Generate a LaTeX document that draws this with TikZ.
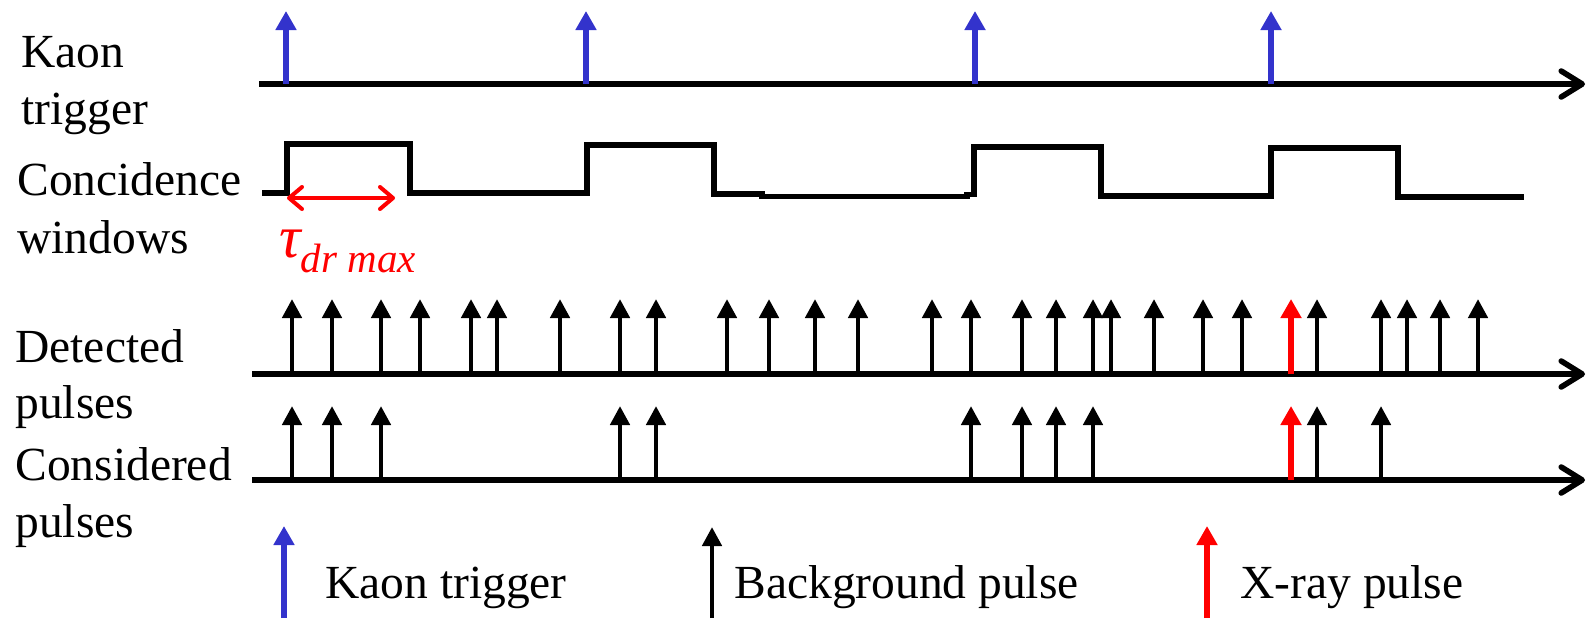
\documentclass[tikz,border=0pt]{standalone}
\usepackage{fontspec}
\setmainfont{Liberation Serif}
\usetikzlibrary{arrows.meta}
\definecolor{kblue}{RGB}{51,51,204}
\definecolor{xred}{RGB}{255,0,0}
\begin{document}
\begin{tikzpicture}[x=0.5pt,y=-0.5pt,
  lbl/.style={font=\fontsize{23.75}{28}\selectfont, anchor=base west, inner sep=0pt},
  axisline/.style={line width=2.8pt, -{Straight Barb[length=10.5pt,width=13pt,round]}},
  pulse/.style={line width=2.3pt, -{Triangle[length=9.5pt,width=9.5pt]}},
  xpulse/.style={xred, line width=2.7pt, -{Triangle[length=9.5pt,width=10pt]}},
  kpulse/.style={kblue, line width=2.7pt, -{Triangle[length=9.5pt,width=10pt]}},
  wave/.style={line width=2.7pt, line cap=butt, line join=miter}]
\useasboundingbox (0,0) rectangle (1588,618);

% left labels
\node[lbl] (l1a) at (21,67) {Kaon};
\node[lbl] (l1b) at (21,124) {trigger};
\node[lbl] (l2a) at (17,195) {Concidence};
\node[lbl] (l2b) at (17,253) {windows};
\node[lbl] (l3a) at (15,362) {Detected};
\node[lbl] (l3b) at (15,418) {pulses};
\node[lbl] (l4a) at (15,480) {Considered};
\node[lbl] (l4b) at (15,537) {pulses};

% Kaon trigger axis
\coordinate (ka0) at (259,84);
\coordinate (ka1) at (1585,84);
\draw[axisline] (ka0) -- (ka1);
\foreach \x in {286,586,975,1271}
  \draw[kpulse] (\x,84) -- (\x,11);

% coincidence windows
\draw[wave] (262,193) -- (287,193) -- (287,144) -- (410,144) -- (410,193)
  -- (587,193) -- (587,145) -- (714,145) -- (714,194) -- (762,194) -- (762,196.5)
  -- (967,196.5) -- (967,194.5) -- (974,194.5) -- (974,147) -- (1101,147) -- (1101,196)
  -- (1271,196) -- (1271,148) -- (1398,148) -- (1398,197) -- (1524,197);

% tau arrow
\coordinate (t0) at (287,198);
\coordinate (t1) at (395,198);
\draw[xred, line width=2pt, {Straight Barb[length=6.5pt,width=11pt,round]}-{Straight Barb[length=6.5pt,width=11pt,round]}] (t0) -- (t1);
\node[anchor=base west, inner sep=0pt, text=xred] (tau) at (279,257)
  {\fontsize{30}{30}\selectfont\itshape τ\raisebox{-7.5pt}{\fontsize{20.5}{20.5}\selectfont\itshape dr max}};

% detected pulses
\coordinate (da0) at (252,374);
\coordinate (da1) at (1585,374);
\draw[axisline] (da0) -- (da1);
\foreach \x in {292,332,381,420,471,497,560,620,656,727,769,815,858,932,971,1022,1056,1093,1111,1154,1203,1242,1317,1381,1407,1440,1478}
  \draw[pulse] (\x,374) -- (\x,299);
\draw[xpulse] (1291,374) -- (1291,299);

% considered pulses
\coordinate (ca0) at (252,480);
\coordinate (ca1) at (1585,480);
\draw[axisline] (ca0) -- (ca1);
\foreach \x in {292,332,381,620,656,971,1022,1056,1093,1317,1381}
  \draw[pulse] (\x,480) -- (\x,406);
\draw[xpulse] (1291,480) -- (1291,406);

% legend
\draw[kpulse] (284,618) -- (284,526);
\node[lbl] (lg1) at (325,598) {Kaon trigger};
\draw[pulse] (712,618) -- (712,527);
\node[lbl] (lg2) at (734,598) {Background pulse};
\draw[xpulse] (1207,618) -- (1207,526);
\node[lbl] (lg3) at (1240,598) {X-ray pulse};
\end{tikzpicture}
\end{document}
